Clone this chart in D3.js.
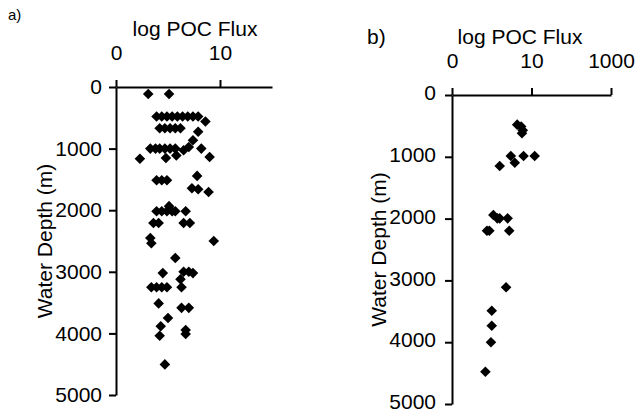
<!DOCTYPE html>
<html>
<head>
<meta charset="utf-8">
<script src="https://cdn.jsdelivr.net/npm/d3@7"></script>
<style>
  html, body { margin: 0; padding: 0; background: #fff; }
  svg { display: block; }
  text { font-family: "Liberation Sans", Arial, sans-serif; fill: #000; }
</style>
</head>
<body>
<svg id="chart" width="638" height="412"></svg>
<script>
// ---- Data ----
const depthTicks = [0, 1000, 2000, 3000, 4000, 5000];

// Panel a
const aFluxTicks = [0, 10];
const aFluxTickLabels = ["0", "10"];
const aFlux = [
  3.1, 5.1,
  3.9, 4.4, 4.9, 5.4, 5.9, 6.4, 6.9, 7.4, 7.9,
  8.6,
  4.2, 4.7, 5.2, 5.7, 6.2,
  7.9, 7.4, 7.0,
  3.3, 3.8, 4.2, 4.7, 5.2, 5.7,
  6.5, 8.2, 9.0, 2.3, 4.8, 5.8,
  3.9, 4.4, 4.9,
  7.8, 7.3, 7.9, 8.9,
  3.9, 4.4, 4.9, 5.4, 5.7, 5.1, 6.7,
  3.6, 4.1, 6.5, 7.1,
  3.3, 3.4, 9.4,
  5.7, 4.5, 6.5, 7.0, 7.4, 6.2,
  3.4, 3.9, 4.4, 4.9, 6.3,
  4.1, 6.3, 7.0, 5.0,
  4.3, 4.2, 6.7, 6.7, 4.7
];
const aDepth = [
  114, 114,
  480, 480, 480, 480, 480, 480, 480, 480, 480,
  560,
  670, 670, 670, 670, 670,
  727, 864, 973,
  1000, 1000, 1000, 1000, 1000, 1000,
  1028, 1000, 1136, 1164, 1153, 1110,
  1513, 1513, 1513,
  1443, 1644, 1661, 1705,
  2016, 2016, 2016, 2016, 2016, 1934, 2016,
  2208, 2208, 2208, 2208,
  2450, 2536, 2500,
  2775, 3021, 3000, 3000, 3021, 3120,
  3250, 3250, 3250, 3250, 3250,
  3513, 3585, 3585, 3750,
  3885, 4038, 3946, 4011, 4503
];

// Panel b
const bFluxTicks = [0, 10, 20];
const bFluxTickLabels = ["0", "10", "1000"];
const bFlux = [
  8.2, 8.7, 8.9, 8.8,
  6.0, 7.4, 7.9, 9.0, 10.4,
  5.2, 5.7, 6.0, 7.0, 4.4, 4.7, 7.2,
  6.8, 5.0, 5.0, 4.9, 4.2
];
const bDepth = [
  480, 510, 570, 620,
  1149, 987, 1095, 987, 987,
  1942, 1996, 1996, 1996, 2196, 2196, 2196,
  3112, 3490, 3733, 4002, 4477
];

// ---- Drawing ----
const svg = d3.select("#chart");
const FONT = 21;

function panel(cfg) {
  const x = d3.scaleLinear().domain(cfg.xDomain).range([cfg.x0, cfg.x1]);
  const y = d3.scaleLinear().domain([0, 5000]).range([cfg.y0, cfg.y1]);
  const g = svg.append("g");

  const xAxis = d3.axisTop(x)
    .tickValues(cfg.xTicks)
    .tickFormat((d, i) => cfg.xLabels[i])
    .tickSize(7).tickSizeOuter(0).tickPadding(20);
  const gx = g.append("g").attr("transform", `translate(0,${cfg.y0})`).call(xAxis);

  const yAxis = d3.axisLeft(y)
    .tickValues(depthTicks)
    .tickFormat(d3.format("d"))
    .tickSize(7).tickSizeOuter(0).tickPadding(cfg.yPad);
  const gy = g.append("g").attr("transform", `translate(${cfg.x0},0)`).call(yAxis);
  gy.selectAll("text").attr("dy", cfg.yDy);

  [gx, gy].forEach(a => {
    a.selectAll("path, line").attr("stroke", "#000").attr("stroke-width", 2);
    a.selectAll("text").style("font-size", FONT + "px")
      .style("font-family", '"Liberation Sans", Arial, sans-serif').attr("fill", "#000");
  });

  const sym = d3.symbol().type(d3.symbolSquare).size(56);
  g.append("g").selectAll("path")
    .data(cfg.flux.map((f, i) => ({ f, d: cfg.depth[i] })))
    .join("path")
    .attr("d", sym)
    .attr("transform", d => `translate(${x(d.f)},${y(d.d)}) rotate(45)`)
    .attr("fill", "#000");

  g.append("text")
    .attr("x", cfg.titleX).attr("y", cfg.titleY)
    .attr("text-anchor", "middle")
    .style("font-size", FONT + "px")
    .text("log POC Flux");

  g.append("text")
    .attr("transform", `translate(${cfg.ylabX},${(cfg.y0 + cfg.y1) / 2}) rotate(-90)`)
    .attr("text-anchor", "middle")
    .style("font-size", FONT + "px")
    .text("Water Depth (m)");

  g.append("text")
    .attr("x", cfg.tagX).attr("y", cfg.tagY)
    .style("font-size", cfg.tagSize + "px")
    .text(cfg.tag);
}

panel({
  xDomain: [0, 15], x0: 116, x1: 272, y0: 87, y1: 395,
  xTicks: aFluxTicks, xLabels: aFluxTickLabels,
  flux: aFlux, depth: aDepth, yPad: 7, yDy: "0.32em",
  titleX: 195, titleY: 36, ylabX: 52,
  tag: "a)", tagX: 8, tagY: 20, tagSize: 15
});

panel({
  xDomain: [0, 20], x0: 452, x1: 611, y0: 95, y1: 404,
  xTicks: bFluxTicks, xLabels: bFluxTickLabels,
  flux: bFlux, depth: bDepth, yPad: 9, yDy: "0.22em",
  titleX: 520, titleY: 44, ylabX: 386,
  tag: "b)", tagX: 367, tagY: 44, tagSize: 21
});
</script>
</body>
</html>
